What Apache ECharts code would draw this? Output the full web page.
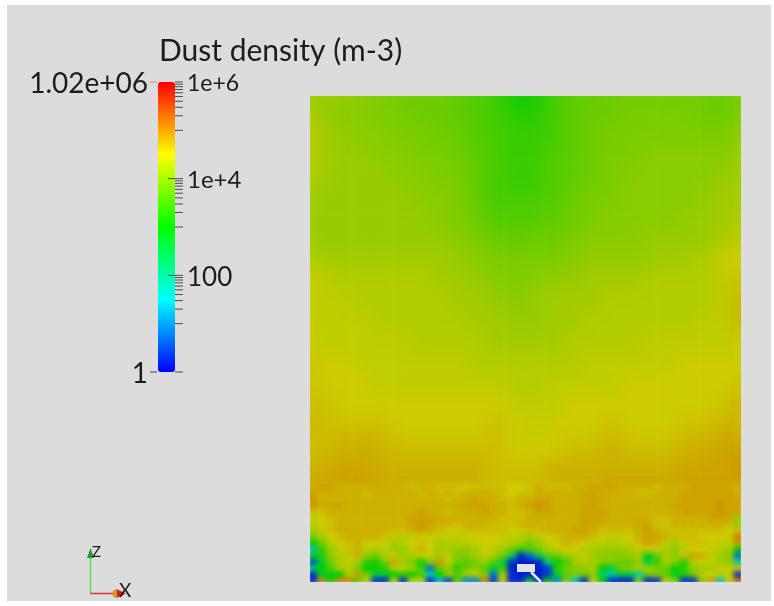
<!DOCTYPE html>
<html>
<head>
<meta charset="utf-8">
<style>
html,body{margin:0;padding:0;background:#fff;}
#plate{position:absolute;left:7px;top:5px;width:764px;height:596px;background:#dcdcdc;}
#chart{position:absolute;left:0;top:0;width:774px;height:606px;}
</style>
<script src="https://cdn.jsdelivr.net/npm/echarts@6/dist/echarts.min.js"></script>
</head>
<body>
<div id="plate"></div>
<div id="chart"></div>
<script>
// log10(density) x 10
const upperField = [
[41,41,41,40,39,38,38,38,37,36,34,30,31,35,37,37,38,38,38,38,38,38,37,40],
[43,41,40,40,39,39,38,38,37,36,35,33,33,35,37,38,38,39,39,39,39,38,38,40],
[44,42,41,40,40,39,39,38,38,36,35,34,34,35,37,38,39,39,39,39,39,39,39,41],
[44,42,41,41,40,40,39,39,38,37,35,34,34,36,37,38,39,39,40,40,40,40,40,42],
[43,42,41,41,41,40,40,39,39,37,35,34,34,36,37,38,39,40,40,40,40,40,41,42],
[42,41,41,41,41,41,40,40,39,37,35,35,35,36,38,39,39,40,40,40,40,41,42,42],
[42,41,41,41,41,41,41,40,39,38,36,36,36,37,38,39,40,40,40,40,41,41,42,43],
[42,41,41,41,41,41,41,41,40,39,38,37,38,38,39,40,40,40,41,41,41,41,43,43],
[43,42,42,42,42,42,42,42,41,40,39,39,39,39,40,41,41,41,41,42,42,43,45,45],
[45,44,43,43,43,43,43,42,42,41,40,39,40,41,41,42,42,42,43,43,43,43,44,46],
[44,44,44,43,43,43,43,43,42,42,41,40,41,42,42,42,43,43,43,43,43,43,44,47],
[45,44,44,44,43,43,43,43,43,42,42,41,41,42,42,43,43,43,43,43,43,44,44,47],
[45,44,44,44,44,44,43,43,43,43,42,42,42,42,43,43,43,43,44,44,44,44,44,45],
[46,45,45,44,44,44,44,44,44,43,43,43,43,43,43,44,44,44,44,44,45,45,45,45],
[46,45,45,45,44,44,44,44,44,44,44,43,43,44,44,44,44,45,45,45,45,45,45,46],
[46,46,45,45,45,45,45,45,45,45,45,44,44,44,45,45,45,45,45,45,45,45,46,47],
[47,46,46,46,46,45,45,45,45,45,46,45,44,45,45,45,46,45,45,45,46,46,47,46],
[46,46,47,47,47,46,46,46,46,46,46,45,45,45,46,46,47,46,46,46,47,47,48,48],
[47,47,48,48,47,47,47,47,47,47,46,46,46,47,47,47,47,47,47,47,48,48,48,49],
[48,48,48,48,48,47,47,47,47,47,46,46,46,47,47,47,48,48,48,48,48,48,48,48]
];
const lowerField = [
[47,48,48,47,47,47,47,47,47,47,47,46,47,47,46,46,46,45,46,46,46,46,45,45,46,47,46,46,46,47,47,48,48,48,47,47,47,47,46,47,47,47,48,48,48,48,48,47],
[48,47,47,47,47,47,46,47,47,47,47,47,46,47,46,47,46,47,47,47,47,46,45,46,46,47,47,47,47,47,48,48,47,47,47,47,46,46,47,47,47,48,48,48,48,48,48,47],
[49,47,47,47,47,47,47,47,47,47,47,47,47,47,47,46,47,47,48,47,47,46,46,47,47,48,48,47,47,47,47,48,48,47,47,47,47,47,47,47,47,48,48,48,48,48,48,48],
[49,47,48,48,47,47,47,47,47,47,47,47,47,47,47,47,47,48,48,48,47,47,46,47,48,49,48,47,47,47,48,48,47,47,47,47,47,47,47,47,48,48,48,48,48,49,48,48],
[46,46,47,47,47,47,47,47,47,47,47,47,48,47,47,46,47,47,47,48,47,47,46,46,47,48,48,47,47,47,48,48,48,47,47,47,47,47,47,47,47,48,48,48,48,49,48,48],
[44,45,46,47,47,47,47,47,47,47,47,48,48,48,47,47,47,47,47,47,47,46,46,46,47,47,47,47,47,47,48,48,48,47,47,47,47,47,46,46,47,47,47,47,48,48,48,41],
[43,45,46,47,47,47,47,47,47,47,47,48,49,48,47,47,46,47,47,47,46,46,46,47,47,47,47,47,47,47,48,48,47,47,47,47,48,48,46,46,47,47,47,47,47,47,46,41],
[42,44,46,47,47,47,47,47,47,46,46,47,48,47,46,45,45,46,46,46,46,46,45,45,46,46,47,47,47,48,48,47,46,46,46,46,47,48,47,46,46,46,46,46,46,46,45,46],
[38,42,45,46,47,47,47,47,46,44,43,44,45,44,44,44,44,44,45,45,45,44,44,43,42,44,45,46,47,47,47,46,45,44,44,45,47,48,48,47,46,46,46,45,45,45,44,51],
[30,38,43,45,46,47,45,45,44,42,43,45,46,45,42,43,43,44,44,45,45,44,43,42,38,41,44,45,47,46,45,44,43,43,44,44,46,48,47,44,42,44,46,46,45,44,44,49],
[14,33,41,44,46,47,43,43,44,41,41,44,47,45,42,42,41,40,42,45,43,42,38,33,36,39,43,44,45,45,43,42,42,41,41,42,44,45,45,42,40,43,45,45,44,43,42,30],
[28,33,40,43,44,47,41,38,43,44,42,43,45,44,42,44,39,40,42,44,43,38,25,3,8,24,36,38,41,43,44,42,40,40,40,41,42,28,36,43,41,46,48,47,44,42,40,8],
[6,26,38,43,44,43,33,32,38,48,42,39,31,40,49,44,38,36,39,41,36,25,4,2,2,3,22,30,35,42,43,42,40,40,38,37,41,25,35,42,40,33,43,45,44,42,41,18],
[22,30,36,42,44,38,30,31,33,43,44,42,35,8,38,40,33,38,40,36,26,34,2,2,2,2,5,33,38,39,41,42,30,25,38,40,42,42,38,38,31,33,40,41,42,44,44,46],
[3,26,28,30,42,48,38,25,28,30,34,30,35,16,30,42,36,42,44,40,8,42,3,2,2,2,4,26,36,40,38,40,22,18,26,25,18,38,40,36,28,32,38,44,45,44,44,3],
[3,50,32,50,50,36,44,3,3,44,3,44,44,3,14,5,36,10,10,50,5,44,3,3,28,3,30,10,40,14,3,44,30,3,2,2,40,3,3,44,40,3,3,40,48,14,44,52]
];
const fieldColors = ['#0000cc','#00cccc','#00cc00','#cccc00','#cc0000'];
const barColors = ['#0000ff','#00ffff','#00ff00','#ffff00','#ff0000'];
const minorTicks = [10,20,30,40,50,60,70,80,90,1e3,2e3,3e3,4e3,5e3,6e3,7e3,8e3,9e3,1e5,2e5,3e5,4e5,5e5,6e5,7e5,8e5,9e5,1e6];
const majorTicks = [100,1e4];
const endTicks = [1];
const tickLabels = ['1e+6','1e+4','100'];
const tickLabelValues = [1e6,1e4,100];
const tickLabelSizes = [23,24,26];
const rangeLabels = ['1.02e+06','1'];
const rangeValues = [1e6,1];
const rangeColors = ['#e8817f','#3030b0'];

const FONT = 'Lato';
function cells(field){
  const out = [];
  field.forEach((row,r)=>row.forEach((v,c)=>out.push([c,r,v])));
  return out;
}
function idx(n){ return Array.from({length:n},(_,i)=>i); }
function hm(gridIndex,field,zlevel){
  return {type:'heatmap',xAxisIndex:gridIndex,yAxisIndex:gridIndex,data:cells(field),zlevel,
    progressive:0,animation:false,silent:true,emphasis:{disabled:true},itemStyle:{borderWidth:0}};
}
const chart = echarts.init(document.getElementById('chart'),null,{renderer:'canvas'});
const tickData = []
  .concat(minorTicks.map(v=>[0,v,0]))
  .concat(majorTicks.map(v=>[0,v,1]))
  .concat(endTicks.map(v=>[0,v,0]));
chart.setOption({
  animation:false,
  tooltip:{show:false},
  title:{text:'Dust density (m-3)',left:159,top:36,padding:0,
    textStyle:{fontFamily:FONT,fontSize:30,fontWeight:'normal',color:'#1c1c1c'}},
  grid:[
    {left:296,width:459,top:82,height:418},
    {left:308,width:435,top:484,height:100},
    {left:158,width:25,top:82,height:290}
  ],
  xAxis:[
    {type:'category',gridIndex:0,data:idx(24),show:false},
    {type:'category',gridIndex:1,data:idx(48),show:false},
    {type:'value',gridIndex:2,min:0,max:1,show:false}
  ],
  yAxis:[
    {type:'category',gridIndex:0,data:idx(20),inverse:true,show:false},
    {type:'category',gridIndex:1,data:idx(16),inverse:true,show:false},
    {type:'log',gridIndex:2,min:1,max:1e6,logBase:10,show:false}
  ],
  visualMap:[
    {type:'continuous',show:false,min:0,max:60,dimension:2,seriesIndex:[0,1],inRange:{color:fieldColors}},
    {type:'continuous',show:true,min:0,max:6,dimension:1,seriesIndex:[4],calculable:false,
      left:158,top:82,itemWidth:17,itemHeight:290,padding:0,showLabel:false,text:null,hoverLink:false,
      inRange:{color:barColors},textStyle:{fontSize:0}}
  ],
  series:[
    hm(0,upperField,1),
    hm(1,lowerField,2),
    {type:'custom',xAxisIndex:2,yAxisIndex:2,coordinateSystem:'cartesian2d',zlevel:3,silent:true,
     data:tickData,encode:{x:0,y:1},clip:false,
     renderItem:function(p,api){
       const pt=api.coord([0,api.value(1)]);
       const major=api.value(2)===1;
       return {type:'line',shape:{x1:pt[0]+(major?10:17),y1:pt[1],x2:pt[0]+25,y2:pt[1]},
         style:{stroke:'#4a4a4a',lineWidth:1}};
     }},
    {type:'custom',xAxisIndex:2,yAxisIndex:2,coordinateSystem:'cartesian2d',zlevel:3,silent:true,
     data:tickLabelValues.map(v=>[1,v]),encode:{x:0,y:1},clip:false,
     renderItem:function(p,api){
       const pt=api.coord([1,api.value(1)]);
       const i=p.dataIndex;
       return {type:'text',style:{text:tickLabels[i],x:pt[0]+4,y:pt[1]+2,textAlign:'left',textVerticalAlign:'middle',
         font:'normal '+tickLabelSizes[i]+'px '+FONT,fill:'#1c1c1c'}};
     }},
    {type:'custom',xAxisIndex:2,yAxisIndex:2,coordinateSystem:'cartesian2d',zlevel:3,silent:true,
     data:rangeValues.map(v=>[0,v]),encode:{x:0,y:1},clip:false,
     renderItem:function(p,api){
       const pt=api.coord([0,api.value(1)]);
       const i=p.dataIndex;
       return {type:'group',children:[
         {type:'line',shape:{x1:pt[0]-8,y1:pt[1],x2:pt[0]-1,y2:pt[1]},style:{stroke:rangeColors[i],lineWidth:1}},
         {type:'text',style:{text:rangeLabels[i],x:pt[0]-10,y:pt[1]+2,textAlign:'right',textVerticalAlign:'middle',
           font:'normal 28px '+FONT,fill:'#1c1c1c'}}
       ]};
     }}
  ],
  graphic:[
    {type:'rect',zlevel:4,silent:true,shape:{x:517,y:564,width:18,height:8},style:{fill:'#e2e2e2'}},
    {type:'line',zlevel:4,silent:true,shape:{x1:531,y1:572,x2:541,y2:582},style:{stroke:'#e6e6e6',lineWidth:2.5}},
    {type:'line',zlevel:4,silent:true,shape:{x1:90.5,y1:593,x2:90.5,y2:555},style:{stroke:'#55dd55',lineWidth:1.5}},
    {type:'polygon',zlevel:4,silent:true,shape:{points:[[90.5,548],[87,558],[94,558]]},style:{fill:'#1f9a2e'}},
    {type:'line',zlevel:4,silent:true,shape:{x1:90,y1:593.5,x2:115,y2:593.5},style:{stroke:'#e23030',lineWidth:1.5}},
    {type:'polygon',zlevel:4,silent:true,shape:{points:[[126,593.5],[116,589],[116,598]]},style:{fill:'#d11a1a'}},
    {type:'rect',zlevel:4,silent:true,shape:{x:113,y:590,width:4,height:7},style:{fill:'#d99a20'}},
    {type:'text',zlevel:4,silent:true,style:{text:'Z',x:92,y:545,font:'normal 15px '+FONT,fill:'#1c1c1c'}},
    {type:'text',zlevel:4,silent:true,style:{text:'X',x:119,y:581,font:'normal 19px '+FONT,fill:'#1c1c1c'}}
  ]
});
function soften(z,blur,clip){
  const layer=chart.getZr().painter.getLayer(z);
  if(layer&&layer.dom){layer.dom.style.filter='blur('+blur+'px)';layer.dom.style.clipPath=clip;}
}
soften(1,9,'inset(96px 33px 106px 310px)');
soften(2,2.6,'inset(470px 33px 24px 310px)');
</script>
</body>
</html>
